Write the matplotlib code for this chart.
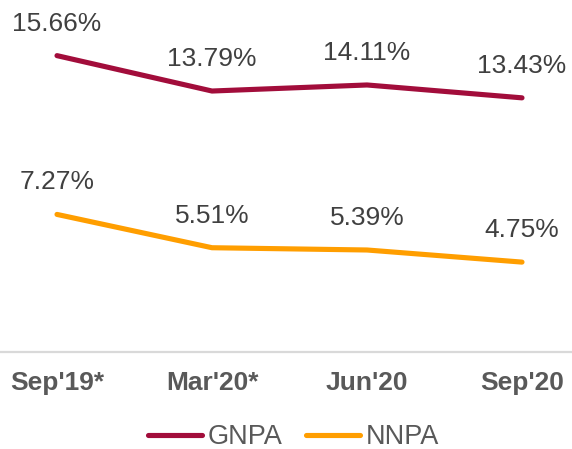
import matplotlib
matplotlib.use("Agg")
import matplotlib.pyplot as plt

categories = ["Sep'19*", "Mar'20*", "Jun'20", "Sep'20"]
gnpa = [15.66, 13.79, 14.11, 13.43]
nnpa = [7.27, 5.51, 5.39, 4.75]
series_names = ["GNPA", "NNPA"]
colors = ["#A20D3B", "#FF9E00"]

plt.rcParams['font.family'] = ['Liberation Sans', 'DejaVu Sans']

fig = plt.figure(figsize=(5.72, 4.49), dpi=100)
ax = fig.add_axes([0, 1 - 352 / 449, 1, 352 / 449])

x = list(range(len(categories)))
for vals, name, c in zip([gnpa, nnpa], series_names, colors):
    ax.plot(x, vals, color=c, lw=3.7, solid_capstyle='round', solid_joinstyle='round', label=name)
    for xi, v in zip(x, vals):
        ax.annotate(f"{v:.2f}%", (xi, v), xytext=(0, 23), textcoords='offset points',
                    ha='center', va='center', fontsize=19, color='#404040')

ax.set_xlim(-57 / 155, (572 - 57) / 155)
ax.set_ylim(0, 18.6)
ax.set_xticks(x)
ax.set_xticklabels(categories, fontsize=19, fontweight='bold', color='#595959')
ax.tick_params(axis='x', length=0, pad=14)
ax.set_yticks([])
for s in ['top', 'right', 'left']:
    ax.spines[s].set_visible(False)
ax.spines['bottom'].set_color('#D9D9D9')
ax.spines['bottom'].set_linewidth(1.6)

fig.legend(loc='center', bbox_to_anchor=(0.513, 1 - 437 / 449), ncol=2, frameon=False,
           fontsize=19.5, handlelength=2.0, handletextpad=0.2, columnspacing=0.85,
           labelcolor='#595959')

fig.savefig("out.png", dpi=100)
